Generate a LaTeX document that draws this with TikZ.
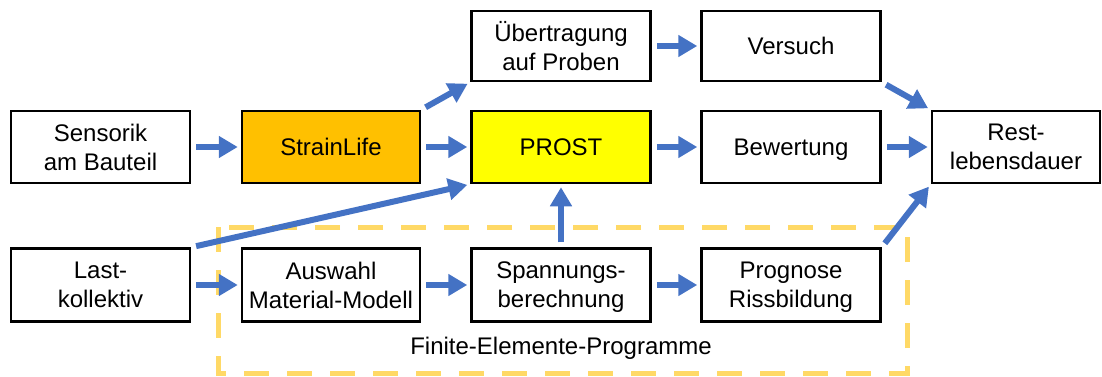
\documentclass[tikz,border=0pt]{standalone}
\usepackage{fontspec}
\setmainfont{Liberation Sans}
\usetikzlibrary{arrows.meta}
\definecolor{arrowblue}{HTML}{4472C4}
\definecolor{feyellow}{HTML}{FFD966}
\definecolor{strainorange}{HTML}{FFC000}
\definecolor{prostyellow}{HTML}{FFFF00}
% drop the descender depth so a line is centred on its capitals
\newcommand\nodescent[1]{\raisebox{0pt}[\height][0pt]{#1}}
\tikzset{
  stepbox/.style={draw=black, line width=2.5pt, rectangle, align=center,
    minimum width=179pt, minimum height=72pt, inner sep=0pt,
    font=\fontsize{24}{29}\selectfont},
  flow/.style={draw=arrowblue, line width=6pt,
    -{Triangle[length=19pt,width=21pt]}, shorten >=3pt, shorten <=5pt},
  feframe/.style={draw=feyellow, line width=5pt, dash pattern=on 25pt off 18pt},
}
\begin{document}
\begin{tikzpicture}[x=1pt,y=-1pt]
\useasboundingbox (0,0) rectangle (1102,377);

% frame around the finite element steps
\draw[feframe] (218,227) rectangle (907,373);
\node[font=\fontsize{24}{29}\selectfont] (fe) at (561,348) {Finite-Elemente-Programme};

% boxes
\node[stepbox] (sens) at (100.5,147) {Sensorik\\am Bauteil};
\node[stepbox, fill=strainorange, minimum width=178pt] (strain) at (331,147) {StrainLife};
\node[stepbox, fill=prostyellow] (prost) at (561,147) {PROST};
\node[stepbox] (bew) at (791,147) {\nodescent{Bewertung}};
\node[stepbox, minimum width=168pt] (rest) at (1016,147) {Rest-\\lebensdauer};
\node[stepbox, minimum height=70pt] (ueb) at (561,46) {Übertragung\\auf Proben};
\node[stepbox, minimum height=70pt] (vers) at (791,46) {Versuch};
\node[stepbox, minimum height=73pt] (last) at (100.5,285) {Last-\\kollektiv};
\node[stepbox, minimum width=178pt, minimum height=73pt] (ausw) at (331,285) {Auswahl\\Material-Modell};
\node[stepbox, minimum height=73pt] (spann) at (561,285) {Spannungs-\\\nodescent{berechnung}};
\node[stepbox, minimum height=73pt] (progn) at (791,285) {Prognose\\\nodescent{Rissbildung}};

% connectors
\draw[flow] (sens) -- (strain);
\draw[flow] (strain) -- (prost);
\draw[flow] (prost) -- (bew);
\draw[flow] (bew) -- (rest);
\draw[flow] (ueb) -- (vers);
\draw[flow] (strain.north east) -- (ueb.south west);
\draw[flow] (vers.south east) -- (rest.north west);
\draw[flow] (progn.north east) -- (rest.south west);
\draw[flow] (last.north east) -- (prost.south west);
\draw[flow] (spann) -- (prost);
\draw[flow] (last) -- (ausw);
\draw[flow] (ausw) -- (spann);
\draw[flow] (spann) -- (progn);
\end{tikzpicture}
\end{document}
